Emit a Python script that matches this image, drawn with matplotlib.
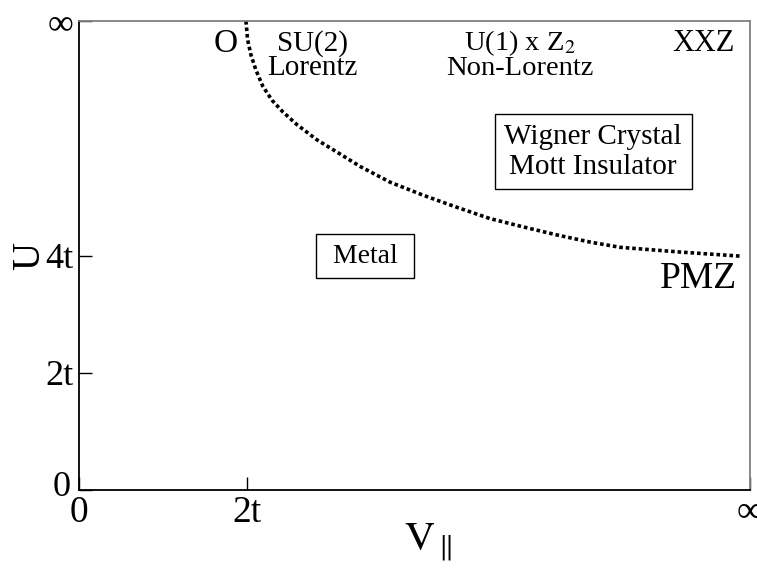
import numpy as np
import matplotlib
matplotlib.use('Agg')
import matplotlib.pyplot as plt
from matplotlib.transforms import ScaledTranslation

plt.rcParams['font.family'] = ['Liberation Serif', 'DejaVu Serif']
plt.rcParams['mathtext.fontset'] = 'stix'

# phase boundary (x in units of t, y in units of t, 8 = infinity)
boundary_v = [1.99, 2.01, 2.05, 2.11, 2.19, 2.30, 2.43, 2.60, 2.84, 3.08, 3.35, 3.71,
              4.10, 4.51, 4.90, 5.29, 5.70, 6.09, 6.45, 7.16, 7.88]
boundary_u = [8.00, 7.68, 7.42, 7.16, 6.89, 6.65, 6.45, 6.23, 5.97, 5.76, 5.52, 5.25,
              5.03, 4.82, 4.63, 4.49, 4.35, 4.23, 4.14, 4.06, 3.99]

x_ticks = [0, 2, 8]
x_ticklabels = ['0', '2t', '\u221e']
y_ticks = [0, 2, 4, 8]
y_ticklabels = ['0', '2t', '4t', '\u221e']

fig = plt.figure(figsize=(7.57, 5.74), dpi=100)
ax = fig.add_axes([0.1044, 0.1463, 0.8864, 0.8171])

ax.plot(boundary_v, boundary_u, color='black', lw=2.6, ls=(0, (1, 0.8)))

ax.set_xlim(0, 8)
ax.set_ylim(0, 8)
ax.set_xticks(x_ticks)
ax.set_xticklabels(x_ticklabels, fontsize=27)
ax.set_yticks(y_ticks)
ax.set_yticklabels(y_ticklabels, fontsize=26)
ax.tick_params(direction='in', length=9.5, width=1, color='black', pad=4)

# the "0" on the U axis sits a little higher and further left
lab0 = ax.get_yticklabels()[0]
lab0.set_transform(lab0.get_transform() + ScaledTranslation(-3 / 100, 7 / 100, fig.dpi_scale_trans))

for s in ['left', 'bottom']:
    ax.spines[s].set_color('black')
    ax.spines[s].set_linewidth(1.3)
for s in ['top', 'right']:
    ax.spines[s].set_color('#808080')
    ax.spines[s].set_linewidth(1.3)

ax.set_xlabel('$\\mathrm{V}_{\\parallel}$', fontsize=30, labelpad=-6)
ax.xaxis.label.set_x(0.52)
ax.set_ylabel('U', fontsize=28, labelpad=-2)

# region labels
ax.text(1.75, 7.61, 'O', fontsize=24, ha='center', va='center')
ax.text(2.78, 7.41, 'SU(2)\nLorentz', fontsize=21, ha='center', va='center', linespacing=0.9)
ax.text(5.26, 7.42, 'U(1) x Z$_2$\nNon-Lorentz', fontsize=20.5, ha='center', va='center', linespacing=0.9)
ax.text(7.44, 7.62, 'XXZ', fontsize=22, ha='center', va='center')
ax.text(6.13, 5.77, 'Wigner Crystal\nMott Insulator', fontsize=21, ha='center', va='center',
        linespacing=1.2, bbox=dict(boxstyle='square,pad=0.33', fc='white', ec='black', lw=1))
ax.text(3.41, 3.99, ' Metal ', fontsize=20, ha='center', va='center',
        bbox=dict(boxstyle='square,pad=0.35', fc='white', ec='black', lw=1))
ax.text(7.38, 3.60, 'PMZ', fontsize=27, ha='center', va='center')

fig.savefig('out.png', dpi=100)
